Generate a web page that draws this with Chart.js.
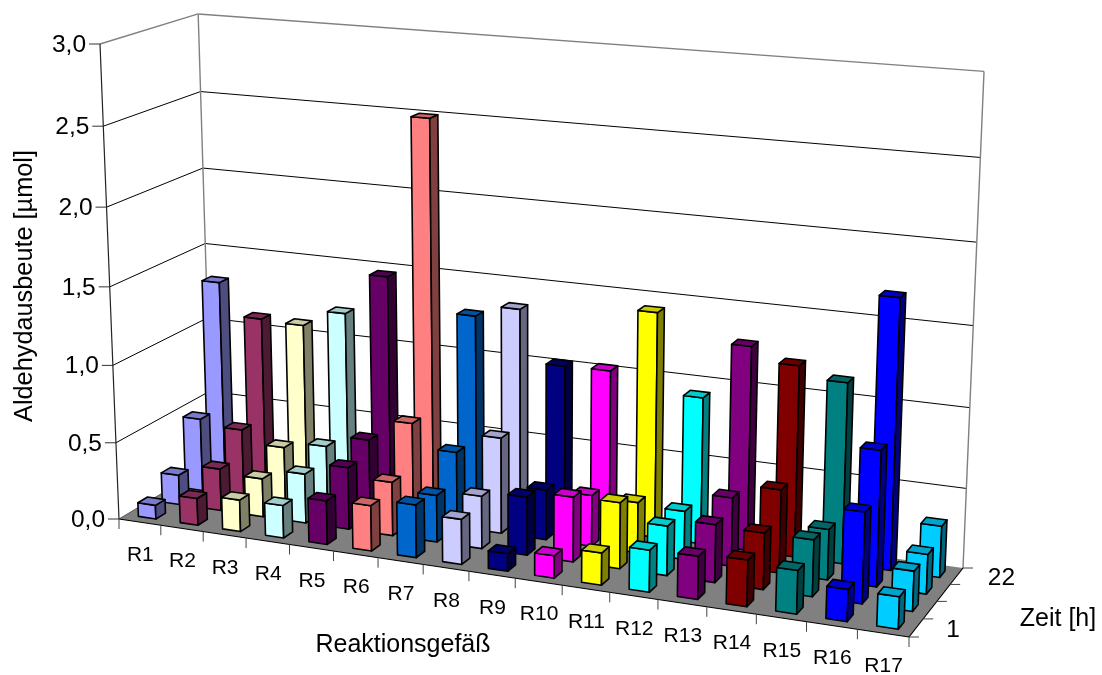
<!DOCTYPE html>
<html><head><meta charset="utf-8">
<style>html,body{margin:0;padding:0;background:#fff}canvas{display:block}</style>
<script src="https://cdn.jsdelivr.net/npm/chart.js@4/dist/chart.umd.js"></script>
</head><body><canvas id="c" width="1102" height="675"></canvas>
<script>
const reaktoren=['R1','R2','R3','R4','R5','R6','R7','R8','R9','R10','R11','R12','R13','R14','R15','R16','R17'];
const zeitLabels=['1','','','22'];
const zeile1=[0.09,0.175,0.205,0.21,0.28,0.29,0.335,0.285,0.11,0.14,0.20,0.26,0.265,0.285,0.265,0.195,0.195];
const zeile2=[0.195,0.275,0.25,0.32,0.40,0.345,0.30,0.335,0.37,0.41,0.415,0.31,0.36,0.35,0.35,0.56,0.245];
const zeile3=[0.48,0.445,0.365,0.41,0.49,0.635,0.485,0.615,0.32,0.325,0.32,0.305,0.43,0.52,0.315,0.84,0.245];
const zeile4=[1.31,1.10,1.09,1.20,1.47,2.50,1.28,1.355,1.025,1.03,1.43,0.93,1.285,1.20,1.13,1.68,0.32];
const farben=['#9999FF','#993366','#FFFFCC','#CCFFFF','#660066','#FF8080','#0066CC','#CCCCFF','#000080','#FF00FF','#FFFF00','#00FFFF','#800080','#800000','#008080','#0000FF','#00CCFF'];

// perspective of the 3D box (u: along reactors, w: depth, t: height)
const FLOOR=[[119,519],[909,637],[963,568],[212,463.5]];
const VP=[530,10800], FRONT_TOP_Y=44, BAR_U=0.42, BAR_W=0.4;
const [hA,hB,hX,hE,hF,hY,hG,hH]=(()=>{
  const [[x0,y0],[x1,y1],[x2,y2],[x3,y3]]=FLOOR;
  const dx1=x1-x2,dx2=x3-x2,sx=x0-x1+x2-x3,dy1=y1-y2,dy2=y3-y2,sy=y0-y1+y2-y3;
  const d=dx1*dy2-dx2*dy1,g=(sx*dy2-dx2*sy)/d,h=(dx1*sy-sx*dy1)/d;
  return [x1-x0+g*x1,x3-x0+h*x3,x0,y1-y0+g*y1,y3-y0+h*y3,y0,g,h];
})();
const LAMBDA=(FRONT_TOP_Y-FLOOR[0][1])/(VP[1]-FRONT_TOP_Y);
function project(u,w,t){
  const n=hG*u+hH*w+1+LAMBDA*t;
  return [(hA*u+hB*w+hX+LAMBDA*t*VP[0])/n,(hE*u+hF*w+hY+LAMBDA*t*VP[1])/n];
}
function shade(hex,f){
  const n=parseInt(hex.slice(1),16);
  return `rgb(${Math.round((n>>16&255)*f)},${Math.round((n>>8&255)*f)},${Math.round((n&255)*f)})`;
}
function poly(ctx,pts,fill,stroke,lw){
  ctx.beginPath();pts.forEach((p,i)=>i?ctx.lineTo(p[0],p[1]):ctx.moveTo(p[0],p[1]));ctx.closePath();
  if(fill){ctx.fillStyle=fill;ctx.fill();}
  if(stroke){ctx.strokeStyle=stroke;ctx.lineWidth=lw;ctx.lineJoin='round';ctx.stroke();}
}
function seg(ctx,a,b,col,lw){ctx.beginPath();ctx.moveTo(a[0],a[1]);ctx.lineTo(b[0],b[1]);ctx.strokeStyle=col;ctx.lineWidth=lw;ctx.stroke();}
function txt(ctx,s,x,y,size,rot){
  ctx.save();ctx.translate(x,y);if(rot)ctx.rotate(rot);
  ctx.font=size+'px "Liberation Sans",Arial,sans-serif';ctx.fillStyle='#000';ctx.textAlign='center';ctx.textBaseline='middle';
  ctx.fillText(s,0,0);ctx.restore();
}
const tNorm=(sy,v)=>(sy.bottom-sy.getPixelForValue(v))/sy.height;
const uNorm=(sx,i)=>(sx.getPixelForValue(i)-sx.left)/sx.width;

class Bar3D extends Chart.BarController{
  draw(){
    const c=this.chart,ctx=c.ctx,sx=c.scales.x,sy=c.scales.y,j=this.index,n=c.data.datasets.length;
    const data=this.getDataset().data,du=BAR_U/c.data.labels.length/2,dw=BAR_W/n/2,w=(j+.5)/n;
    ctx.save();
    data.forEach((v,i)=>{
      const u=uNorm(sx,i),t=tNorm(sy,v),col=farben[i];
      const P=(a,b,h)=>project(u+a*du,w+b*dw,h);
      poly(ctx,[P(-1,-1,0),P(1,-1,0),P(1,-1,t),P(-1,-1,t)],col,'#000',1.6);
      poly(ctx,[P(1,-1,0),P(1,1,0),P(1,1,t),P(1,-1,t)],shade(col,.5),'#000',1.6);
      poly(ctx,[P(-1,-1,t),P(1,-1,t),P(1,1,t),P(-1,1,t)],shade(col,.8),'#000',1.6);
    });
    ctx.restore();
  }
}
Bar3D.id='bar3d';Bar3D.defaults=Chart.BarController.defaults;Bar3D.overrides=Chart.BarController.overrides;
Chart.register(Bar3D);

const frame={id:'frame',
  beforeDatasetsDraw(c){
    const ctx=c.ctx,sx=c.scales.x,sy=c.scales.y;ctx.save();
    poly(ctx,[project(0,0,0),project(1,0,0),project(1,1,0),project(0,1,0)],'#808080');
    sy.ticks.forEach(tk=>{
      const t=tNorm(sy,tk.value),a=project(0,0,t),b=project(0,1,t),d=project(1,1,t);
      const col=t>=.999?'#808080':'#000',lw=t>=.999?1.4:1;
      if(t>0){seg(ctx,a,b,col,lw);seg(ctx,b,d,col,lw);}
      seg(ctx,[a[0]-11,a[1]],a,'#333',1);
      txt(ctx,tk.value.toFixed(1).replace('.',','),a[0]-31,a[1]+1,24.5);
    });
    seg(ctx,project(0,1,0),project(0,1,1),'#808080',1.4);
    seg(ctx,project(1,1,0),project(1,1,1),'#808080',1.4);
    seg(ctx,project(0,0,0),project(0,0,1),'#222',1.2);
    seg(ctx,project(0,0,0),project(0,1,0),'#555',1);
    seg(ctx,project(0,0,0),project(1,0,0),'#000',1.2);
    seg(ctx,project(1,0,0),project(1,1,0),'#000',1.2);
    const nx=reaktoren.length,nz=zeitLabels.length;
    for(let i=0;i<=nx;i++){const a=project(i/nx,0,0);seg(ctx,a,[a[0],a[1]+10],'#444',1);}
    for(let j=0;j<=nz;j++){const a=project(1,j/nz,0);seg(ctx,a,[a[0]+10,a[1]],'#444',1);}
    reaktoren.forEach((r,i)=>{const a=project(uNorm(sx,i),0,0);txt(ctx,r,a[0]+.5,a[1]+33,21);});
    zeitLabels.forEach((z,j)=>{if(z){const a=project(1,(j+.5)/nz,0);txt(ctx,z,a[0]+37+j*2.6,a[1]+2,24.5);}});
    txt(ctx,'Aldehydausbeute [µmol]',25,286,25.3,-Math.PI/2);
    txt(ctx,'Reaktionsgefäß',403,645,25);
    txt(ctx,'Zeit [h]',1058,619,25);
    ctx.restore();
  }
};
new Chart(document.getElementById('c'),{
  type:'bar3d',
  data:{labels:reaktoren,datasets:[zeile1,zeile2,zeile3,zeile4].map((d,j)=>({label:zeitLabels[j]||('Zeile '+(j+1)),data:d}))},
  options:{responsive:false,animation:false,
    plugins:{legend:{display:false},tooltip:{enabled:false}},
    scales:{x:{type:'category',offset:true,display:false},y:{type:'linear',min:0,max:3,display:false,ticks:{stepSize:.5}}}},
  plugins:[frame]
});
</script></body></html>
